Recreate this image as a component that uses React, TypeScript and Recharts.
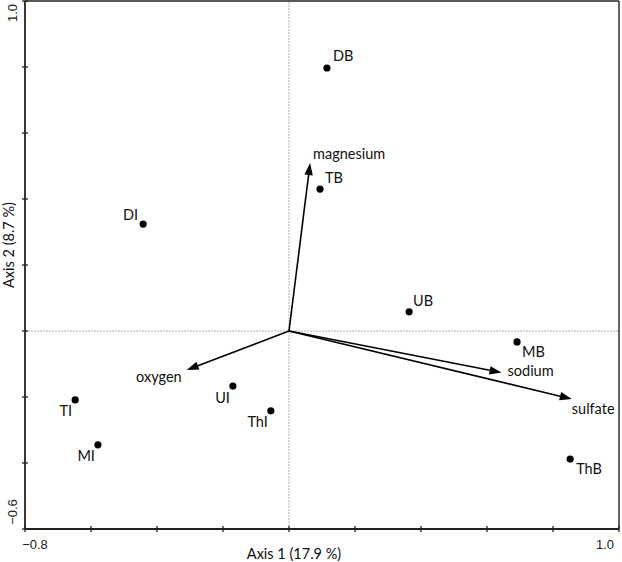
import React from "react";
import { ScatterChart, Scatter, XAxis, YAxis, ReferenceLine } from "recharts";

const siteNames = ["DB", "TB", "DI", "UB", "MB", "ThB", "TI", "MI", "UI", "ThI"];
const axis1Scores = [0.115, 0.094, -0.442, 0.364, 0.691, 0.852, -0.648, -0.579, -0.17, -0.055];
const axis2Scores = [0.797, 0.43, 0.324, 0.058, -0.033, -0.388, -0.209, -0.345, -0.167, -0.242];

const vectorNames = ["magnesium", "oxygen", "sodium", "sulfate"];
const vectorAxis1 = [0.064, -0.31, 0.644, 0.857];
const vectorAxis2 = [0.509, -0.118, -0.126, -0.206];

const xTicks = [-0.8, -0.6, -0.4, -0.2, 0, 0.2, 0.4, 0.6, 0.8, 1.0];
const yTicks = [-0.6, -0.4, -0.2, 0, 0.2, 0.4, 0.6, 0.8, 1.0];
const xTickLabels: Record<string, string> = { "-0.8": "\u22120.8", "1": "1.0" };
const yTickLabels: Record<string, string> = { "-0.6": "\u22120.6", "1": "1.0" };

// label placement (pixel offsets from the point), styling only
const siteLabelOffset: Record<string, [number, number, string]> = {
  DB: [6, -12, "start"],
  TB: [5, -12, "start"],
  DI: [-5, -10, "end"],
  UB: [4, -11, "start"],
  MB: [5, 10, "start"],
  ThB: [6, 9, "start"],
  TI: [-3, 11, "end"],
  MI: [-3, 11, "end"],
  UI: [-3, 11, "end"],
  ThI: [-3, 11, "end"],
};
const vectorLabelOffset: Record<string, [number, number, string]> = {
  magnesium: [3, -10, "start"],
  oxygen: [-5, 7, "end"],
  sodium: [6, -2, "start"],
  sulfate: [0, 10, "start"],
};

const siteData = siteNames.map((name, i) => ({ name, x: axis1Scores[i], y: axis2Scores[i] }));

const labelFont = "Lato, 'Open Sans', sans-serif";
const tickFont = "'Liberation Sans', Arial, sans-serif";
const labelSize = 14.5;

const XTick = (props: any) => {
  const { x, y, payload } = props;
  const label = xTickLabels[String(payload.value)];
  return (
    <g>
      <line x1={x} x2={x} y1={y - 3} y2={y + 3} stroke="#222" strokeWidth={1.3} />
      {label && (
        <text x={x + (payload.value > 0 ? -14 : 10)} y={y + 15} textAnchor="middle" dominantBaseline="central" fontSize={13} fontFamily={tickFont} fill="#222">
          {label}
        </text>
      )}
    </g>
  );
};

const YTick = (props: any) => {
  const { x, y, payload } = props;
  const label = yTickLabels[String(payload.value)];
  const ly = y + (payload.value > 0 ? 12 : -17);
  return (
    <g>
      <line x1={x - 3} x2={x + 3} y1={y} y2={y} stroke="#222" strokeWidth={1.3} />
      {label && (
        <text x={x - 13} y={ly} textAnchor="middle" dominantBaseline="central" fontSize={13} fontFamily={tickFont} fill="#222" transform={`rotate(-90 ${x - 13} ${ly})`}>
          {label}
        </text>
      )}
    </g>
  );
};

const SiteShape = (props: any) => {
  const { cx, cy, payload } = props;
  const [dx, dy, anchor] = siteLabelOffset[payload.name];
  return (
    <g>
      <circle cx={cx} cy={cy} r={3.6} fill="#000" />
      <text x={cx + dx} y={cy + dy} textAnchor={anchor as any} dominantBaseline="central" fontSize={labelSize} fontFamily={labelFont} fill="#111">
        {payload.name}
      </text>
    </g>
  );
};

const makeArrow = (name: string) => (props: any) => {
  const { x1, y1, x2, y2 } = props;
  const ang = Math.atan2(y2 - y1, x2 - x1);
  const len = 12;
  const half = 4.2;
  const bx = x2 - len * Math.cos(ang);
  const by = y2 - len * Math.sin(ang);
  const px = -Math.sin(ang) * half;
  const py = Math.cos(ang) * half;
  const [dx, dy, anchor] = vectorLabelOffset[name];
  return (
    <g>
      <line x1={x1} y1={y1} x2={bx} y2={by} stroke="#000" strokeWidth={1.6} />
      <polygon points={`${x2},${y2} ${bx + px},${by + py} ${bx - px},${by - py}`} fill="#000" />
      <text x={x2 + dx} y={y2 + dy} textAnchor={anchor as any} dominantBaseline="central" fontSize={labelSize} fontFamily={labelFont} fill="#111">
        {name}
      </text>
    </g>
  );
};

export default function App() {
  return (
    <div style={{ position: "absolute", left: 0, top: 0, width: 622, height: 562, background: "#fff" }}>
      <ScatterChart width={622} height={562} margin={{ top: 1, right: 3, bottom: 0, left: 0 }}>
        <XAxis
          type="number"
          dataKey="x"
          domain={[-0.8, 1.0]}
          ticks={xTicks}
          interval={0}
          height={33}
          tickSize={0}
          tickMargin={0}
          tickLine={false}
          axisLine={{ stroke: "#222", strokeWidth: 1.8 }}
          tick={<XTick />}
          allowDataOverflow
        />
        <YAxis
          type="number"
          dataKey="y"
          domain={[-0.6, 1.0]}
          ticks={yTicks}
          interval={0}
          width={25}
          tickSize={0}
          tickMargin={0}
          tickLine={false}
          axisLine={{ stroke: "#222", strokeWidth: 1.8 }}
          tick={<YTick />}
          allowDataOverflow
        />
        <ReferenceLine x={0} stroke="#b0b0b0" strokeWidth={1} strokeDasharray="2 1" />
        <ReferenceLine y={0} stroke="#b0b0b0" strokeWidth={1} strokeDasharray="2 1" />
        <ReferenceLine y={1.0} stroke="#222" strokeWidth={1.6} />
        <ReferenceLine x={1.0} stroke="#222" strokeWidth={1.4} />
        {vectorNames.map((name, i) => (
          <ReferenceLine
            key={name}
            segment={[{ x: 0, y: 0 }, { x: vectorAxis1[i], y: vectorAxis2[i] }]}
            shape={makeArrow(name)}
            ifOverflow="visible"
          />
        ))}
        <Scatter data={siteData} shape={<SiteShape />} isAnimationActive={false} />
        <text x={294} y={553} textAnchor="middle" dominantBaseline="central" fontSize={labelSize} fontFamily={labelFont} fill="#111">
          Axis 1 (17.9 %)
        </text>
        <text x={8} y={245} textAnchor="middle" dominantBaseline="central" fontSize={labelSize} fontFamily={labelFont} fill="#111" transform="rotate(-90 8 245)">
          Axis 2 (8.7 %)
        </text>
      </ScatterChart>
    </div>
  );
}
